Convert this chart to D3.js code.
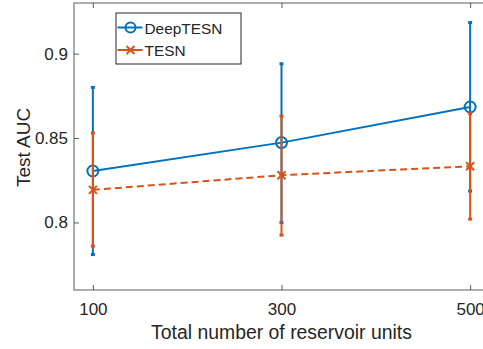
<!DOCTYPE html>
<html><head><meta charset="utf-8">
<script src="https://cdn.jsdelivr.net/npm/d3@7"></script>
<style>body{margin:0;background:#fff}svg{display:block}text{font-family:"Liberation Sans",Arial,sans-serif;fill:#262626}</style>
</head><body><svg id="c" width="483" height="349"></svg>
<script>
const units = [100, 300, 500];
const deepMean = [0.8305, 0.8473, 0.8684];
const deepLow = [0.781, 0.800, 0.8186];
const deepHigh = [0.880, 0.894, 0.9184];
const tesnMean = [0.8193, 0.828, 0.8333];
const tesnLow = [0.786, 0.7925, 0.802];
const tesnHigh = [0.853, 0.863, 0.8645];
const xTicks = [100, 300, 500];
const yTicks = [0.8, 0.85, 0.9];
const seriesNames = ["DeepTESN", "TESN"];

const svg = d3.select("#c");
const L = 74, R = 489, T = 3, B = 290;
const x = d3.scaleLinear().domain([80, 520]).range([L, R]);
const y = d3.scaleLinear().domain([0.76, 0.93]).range([B, T]);
const axisCol = "#262626";
const blue = "#0072BD", orange = "#D95319";
const FF = '"Liberation Sans",Arial,sans-serif';

svg.append("rect").attr("x", L).attr("y", T).attr("width", R - L).attr("height", B - T)
  .attr("fill", "none").attr("stroke", axisCol).attr("stroke-width", 1).attr("opacity", 0.75);

const xa = svg.append("g").attr("transform", `translate(0,${B})`)
  .call(d3.axisBottom(x).tickValues(xTicks).tickSize(-5).tickPadding(12.5).tickFormat(d3.format("d")));
const xt = svg.append("g").attr("transform", `translate(0,${T})`)
  .call(d3.axisTop(x).tickValues(xTicks).tickSize(-5).tickFormat(""));
const ya = svg.append("g").attr("transform", `translate(${L},0)`)
  .call(d3.axisLeft(y).tickValues(yTicks).tickSize(-5).tickPadding(6).tickFormat(d => String(d)));
[xa, xt, ya].forEach(g => {
  g.select(".domain").remove();
  g.selectAll("line").attr("stroke", axisCol).attr("opacity", 0.75);
  g.selectAll("text").attr("font-size", 17).attr("fill", axisCol).style("font-family", FF);
});

svg.append("text").attr("x", (L + R) / 2).attr("y", 339).attr("text-anchor", "middle")
  .attr("font-size", 19.4).text("Total number of reservoir units");
svg.append("text").attr("transform", `translate(29.5,147.5) rotate(-90)`)
  .attr("text-anchor", "middle").attr("font-size", 19).text("Test AUC");

function drawSeries(mean, lo, hi, col, dashed, marker) {
  const g = svg.append("g");
  const line = d3.line().x((d, i) => x(units[i])).y(d => y(d));
  g.append("path").datum(mean).attr("d", line).attr("fill", "none").attr("stroke", col)
    .attr("stroke-width", 2).attr("stroke-dasharray", dashed ? "7,4" : null);
  units.forEach((u, i) => {
    g.append("line").attr("x1", x(u)).attr("x2", x(u)).attr("y1", y(lo[i])).attr("y2", y(hi[i]))
      .attr("stroke", col).attr("stroke-width", 2);
    [lo[i], hi[i]].forEach(v => {
      g.append("rect").attr("x", x(u) - 2).attr("y", y(v) - 1.5).attr("width", 4).attr("height", 3).attr("fill", col);
    });
    if (marker === "o") {
      g.append("circle").attr("cx", x(u)).attr("cy", y(mean[i])).attr("r", 5.5)
        .attr("fill", "none").attr("stroke", col).attr("stroke-width", 2);
    } else {
      const s = 4;
      g.append("path").attr("d", `M${x(u)-s},${y(mean[i])-s}L${x(u)+s},${y(mean[i])+s}M${x(u)-s},${y(mean[i])+s}L${x(u)+s},${y(mean[i])-s}`)
        .attr("stroke", col).attr("stroke-width", 2);
    }
  });
}
drawSeries(deepMean, deepLow, deepHigh, blue, false, "o");
drawSeries(tesnMean, tesnLow, tesnHigh, orange, true, "x");

const lg = svg.append("g");
lg.append("rect").attr("x", 116).attr("y", 13).attr("width", 125).attr("height", 51)
  .attr("fill", "#fff").attr("stroke", axisCol).attr("stroke-width", 1);
const items = [{n: seriesNames[0], c: blue, m: "o", y: 27.5}, {n: seriesNames[1], c: orange, m: "x", y: 50}];
items.forEach(it => {
  lg.append("line").attr("x1", 117.5).attr("x2", 142.5).attr("y1", it.y).attr("y2", it.y).attr("stroke", it.c).attr("stroke-width", 2);
  if (it.m === "o") lg.append("circle").attr("cx", 130.5).attr("cy", it.y).attr("r", 5).attr("fill", "none").attr("stroke", it.c).attr("stroke-width", 2);
  else lg.append("path").attr("d", `M126.5,${it.y-4}L134.5,${it.y+4}M126.5,${it.y+4}L134.5,${it.y-4}`).attr("stroke", it.c).attr("stroke-width", 2);
  lg.append("text").attr("x", 144.5).attr("y", it.y + 6).attr("font-size", 15.4).attr("fill", "#000").text(it.n);
});
</script></body></html>
